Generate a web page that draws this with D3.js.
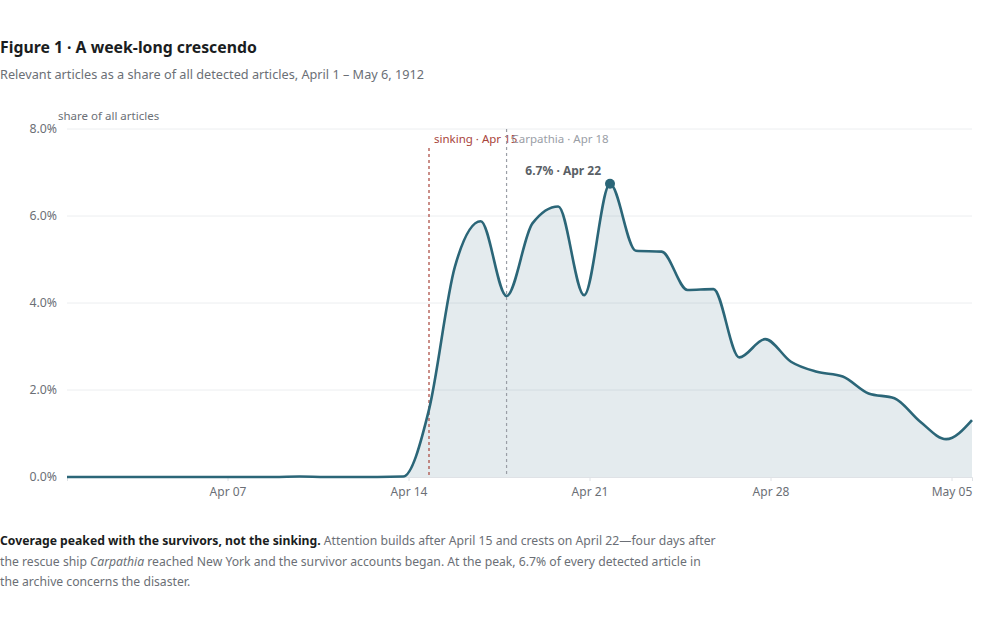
<!DOCTYPE html>
<html>
<head>
<meta charset="utf-8">
<script src="https://cdn.jsdelivr.net/npm/d3@7"></script>
<style>
  body { margin: 0; background: #fff; font-family: "Noto Sans", "Open Sans", sans-serif; }
  svg text { font-family: "Noto Sans", "Open Sans", sans-serif; }
</style>
</head>
<body>
<div id="chart"></div>
<script>
// daily share of detected articles (%), Apr 1 - May 6 1912
const days = d3.utcDay.range(new Date(Date.UTC(1912, 3, 1)), new Date(Date.UTC(1912, 4, 7)));
const share = [
    0.00, 0.00, 0.00, 0.00, 0.00, 0.00, 0.00, 0.00, 0.00, 0.01,   // Apr 1-10
    0.00, 0.00, 0.00, 0.01, 1.55, 4.83, 5.88, 4.16, 5.83, 6.22,   // Apr 11-20
    4.18, 6.74, 5.20, 5.18, 4.30, 4.32, 2.75, 3.17, 2.65, 2.42,   // Apr 21-30
    2.31, 1.92, 1.81, 1.27, 0.87, 1.31                            // May 1-6
];
const yTicks = [0, 2, 4, 6, 8];
const events = [
    { date: new Date(Date.UTC(1912, 3, 15)), label: "sinking · Apr 15", colour: "#a8443a", top: 148 },
    { date: new Date(Date.UTC(1912, 3, 18)), label: "Carpathia · Apr 18", colour: "#9a9ea6", top: 129 }
];
const captionLines = [
    [["b", "Coverage peaked with the survivors, not the sinking."], ["", " Attention builds after April 15 and crests on April 22—four days after"]],
    [["", "the rescue ship "], ["i", "Carpathia"], ["", " reached New York and the survivor accounts began. At the peak, 6.7% of every detected article in"]],
    [["", "the archive concerns the disaster."]]
];

const data = days.map((d, i) => ({ date: d, value: share[i] }));

const W = 1000, H = 625;
const margin = { top: 129, right: 28, bottom: 148, left: 67 };
const width = W - margin.left - margin.right,
    height = H - margin.top - margin.bottom;

const root = d3.select("#chart")
    .append("svg")
        .attr("width", W)
        .attr("height", H);

root.append("text")
    .attr("x", 0)
    .attr("y", 53)
    .style("font-size", "15.8px")
    .style("font-weight", "700")
    .style("fill", "#1a1d21")
    .text("Figure 1 · A week-long crescendo");

root.append("text")
    .attr("x", 0)
    .attr("y", 79)
    .style("font-size", "12.7px")
    .style("fill", "#6b6f76")
    .text("Relevant articles as a share of all detected articles, April 1 – May 6, 1912");

const svg = root.append("g")
    .attr("transform", `translate(${margin.left},${margin.top})`);

const x = d3.scaleUtc()
    .domain(d3.extent(data, d => d.date))
    .range([0, width]);

const y = d3.scaleLinear()
    .domain([0, 8])
    .range([height, 0]);

// gridlines
svg.append("g")
    .selectAll("line")
    .data(yTicks.slice(1))
    .join("line")
        .attr("x1", 0)
        .attr("x2", width)
        .attr("y1", d => y(d))
        .attr("y2", d => y(d))
        .style("stroke", "#eceef0");

const yAxisGroup = svg.append("g")
    .call(d3.axisLeft(y).tickValues(yTicks).tickSize(0).tickPadding(10).tickFormat(d => d.toFixed(1) + "%"));
yAxisGroup.select(".domain").remove();
yAxisGroup.selectAll("text")
    .style("font-size", "12.3px")
    .style("fill", "#6b6f76");

svg.append("text")
    .attr("x", -9)
    .attr("y", -9)
    .style("font-size", "11.5px")
    .style("fill", "#6b6f76")
    .text("share of all articles");

// area + line
const area = d3.area()
    .x(d => x(d.date))
    .y0(y(0))
    .y1(d => y(d.value))
    .curve(d3.curveMonotoneX);

const line = d3.line()
    .x(d => x(d.date))
    .y(d => y(d.value))
    .curve(d3.curveMonotoneX);

svg.append("path")
    .datum(data)
    .attr("fill", "#2b6678")
    .attr("fill-opacity", 0.13)
    .attr("d", area);

// x axis: the original was rendered on US Eastern time, so weekly ticks land 5h after UTC midnight
const tickDates = d3.utcSunday.range(x.domain()[0], x.domain()[1]).map(d => d3.utcHour.offset(d, 5));
const xAxisGroup = svg.append("g")
    .attr("transform", `translate(0,${height})`)
    .call(d3.axisBottom(x).tickValues(tickDates).tickSize(4).tickPadding(6).tickFormat(d3.utcFormat("%b %d")));
xAxisGroup.select(".domain").style("stroke", "#dfe2e6");
xAxisGroup.selectAll("line").style("stroke", "#dfe2e6");
xAxisGroup.selectAll("text")
    .style("font-size", "12px")
    .style("fill", "#6b6f76");

// event markers
const ev = svg.append("g")
    .selectAll("g")
    .data(events)
    .join("g");
ev.append("line")
    .attr("x1", d => x(d.date))
    .attr("x2", d => x(d.date))
    .attr("y1", d => d.top - margin.top)
    .attr("y2", height)
    .style("stroke", d => d.colour)
    .style("stroke-width", 1.2)
    .style("stroke-dasharray", "3,3");
ev.append("text")
    .attr("x", d => x(d.date) + 5)
    .attr("y", 14)
    .style("font-size", "11.5px")
    .style("fill", d => d.colour)
    .text(d => d.label);

svg.append("path")
    .datum(data)
    .attr("fill", "none")
    .attr("stroke", "#2b6678")
    .attr("stroke-width", 2.6)
    .attr("d", line);

// peak
const peak = data.reduce((a, b) => b.value > a.value ? b : a);
svg.append("circle")
    .attr("cx", x(peak.date))
    .attr("cy", y(peak.value))
    .attr("r", 5)
    .attr("fill", "#2b6678");
svg.append("text")
    .attr("x", x(peak.date) - 9)
    .attr("y", y(peak.value) - 9)
    .attr("text-anchor", "end")
    .style("font-size", "12px")
    .style("font-weight", "700")
    .style("fill", "#5a5f66")
    .text(`${peak.value.toFixed(1)}% · ${d3.utcFormat("%b %-d")(peak.date)}`);

// caption
const cap = root.append("text")
    .style("font-size", "12.2px")
    .style("fill", "#6b6f76");
captionLines.forEach((parts, i) => {
    parts.forEach(([kind, str], j) => {
        const t = cap.append("tspan").text(str);
        if (j === 0) t.attr("x", 0).attr("y", 545 + i * 20.5);
        if (kind === "b") t.style("font-weight", "700").style("fill", "#1a1d21");
        if (kind === "i") t.style("font-style", "italic");
    });
});
</script>
</body>
</html>
